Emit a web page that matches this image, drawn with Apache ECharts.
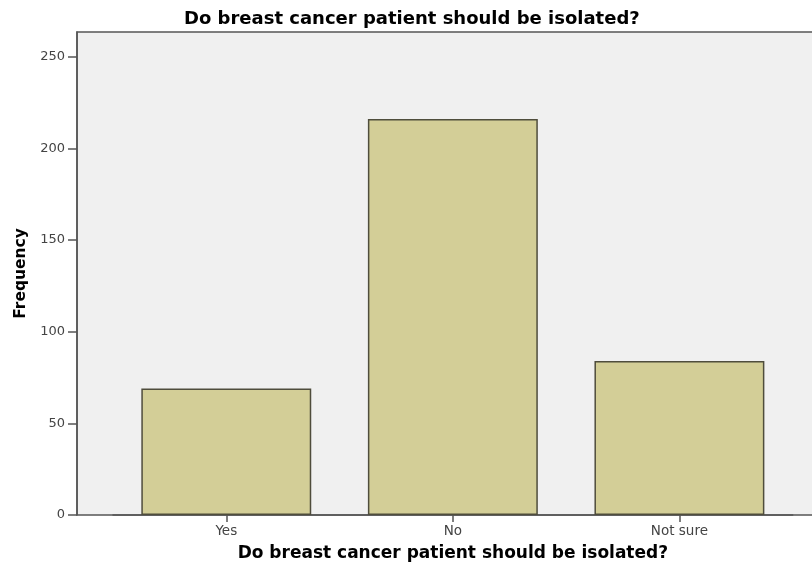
<!DOCTYPE html>
<html>
<head>
<meta charset="utf-8">
<script src="https://cdn.jsdelivr.net/npm/echarts@6/dist/echarts.min.js"></script>
<style>html,body{margin:0;padding:0;background:#fff;}#c{width:812px;height:573px;}</style>
</head>
<body>
<div id="c"></div>
<script>
var categories = ['Yes', 'No', 'Not sure'];
var frequency = [69, 216, 84];
var yTicks = [0, 50, 100, 150, 200, 250];
var titleText = 'Do breast cancer patient should be isolated?';

var chart = echarts.init(document.getElementById('c'), null, {renderer: 'canvas'});
var font = '"DejaVu Sans", "Liberation Sans", Arial, sans-serif';
chart.setOption({
  animation: false,
  backgroundColor: '#ffffff',
  title: {
    text: titleText, left: 179, top: 5,
    textStyle: {fontFamily: font, fontSize: 18, fontWeight: 'bold', color: '#000'}
  },
  graphic: [{
    type: 'rect', z: -10, silent: true,
    shape: {x: 77, y: 32, width: 752, height: 483},
    style: {fill: '#f0f0f0', stroke: '#555555', lineWidth: 1.5}
  }],
  grid: {left: 113, top: 32, right: 19.3, bottom: 58},
  xAxis: {
    type: 'category', data: categories,
    name: titleText, nameLocation: 'middle', nameGap: 30,
    nameTextStyle: {fontFamily: font, fontSize: 17, fontWeight: 'bold', color: '#000'},
    axisLine: {show: true, lineStyle: {color: '#555555', width: 1.5}},
    axisTick: {show: true, alignWithLabel: true, length: 7, lineStyle: {color: '#555555', width: 1.5}},
    axisLabel: {fontFamily: font, fontSize: 13.5, color: '#444', margin: 9},
    splitLine: {show: false}
  },
  yAxis: {
    type: 'value', min: 0, max: 263.5, interval: 50, offset: 36,
    name: 'Frequency', nameLocation: 'middle', nameGap: 44,
    nameTextStyle: {fontFamily: font, fontSize: 15.5, fontWeight: 'bold', color: '#000'},
    axisLine: {show: true, lineStyle: {color: '#555555', width: 1.5}},
    axisTick: {show: true, length: 9, customValues: yTicks, lineStyle: {color: '#555555', width: 1.5}},
    axisLabel: {fontFamily: font, fontSize: 13, color: '#444', margin: 12, customValues: yTicks},
    splitLine: {show: false}
  },
  series: [{
    type: 'bar', data: frequency, barCategoryGap: '25%',
    itemStyle: {color: '#d3ce97', borderColor: '#4f4d3c', borderWidth: 1.5}
  }]
});
</script>
</body>
</html>
